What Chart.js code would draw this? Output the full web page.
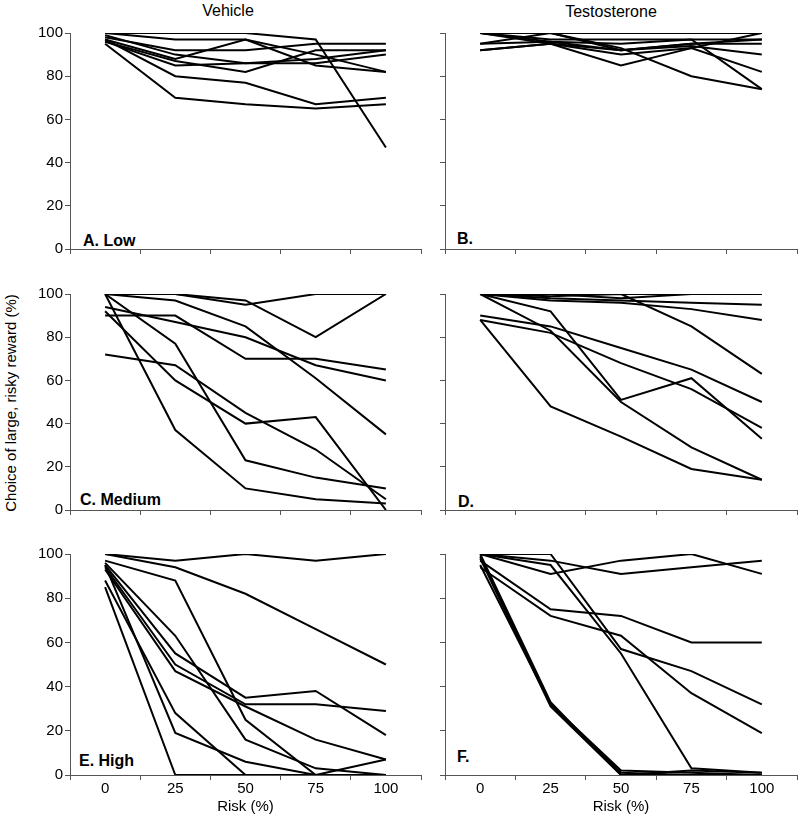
<!DOCTYPE html>
<html>
<head>
<meta charset="utf-8">
<script src="https://cdn.jsdelivr.net/npm/chart.js@4.4.0/dist/chart.umd.min.js"></script>
<style>
  body { margin: 0; background: #fff; }
  #page { position: relative; width: 800px; height: 827px; overflow: hidden; font-family: 'Liberation Sans', Arial, sans-serif; }
  canvas { position: absolute; }
  .txt { position: absolute; white-space: nowrap; color: #000; transform: translate(0, -50%); }
  .title { font-size: 16px; transform: translate(-50%, -50%); }
  .panel { font-weight: bold; font-size: 16px; }
  .ylab { font-size: 15px; transform: translate(-50%, -50%) rotate(-90deg); }
</style>
</head>
<body>
<div id="page">
  <div class="txt title" style="left:228px; top:11px;">Vehicle</div>
  <div class="txt title" style="left:611px; top:12px;">Testosterone</div>
  <div class="txt ylab" style="left:10px; top:403px;">Choice of large, risky reward (%)</div>
  <div class="txt panel" style="left:83px; top:241px;">A. Low</div>
  <div class="txt panel" style="left:457px; top:239px;">B.</div>
  <div class="txt panel" style="left:80px; top:500px;">C. Medium</div>
  <div class="txt panel" style="left:458px; top:502px;">D.</div>
  <div class="txt panel" style="left:79px; top:761px;">E. High</div>
  <div class="txt panel" style="left:457px; top:757px;">F.</div>
</div>
<script>
// risk levels on the x axis and their labels
const riskLevels = [0, 25, 50, 75, 100];
const riskLabels = ['0', '25', '50', '75', '100'];

// one row per animal, values = % choice of large risky reward
const vehicleLow = [
  [100, 100, 100, 97, 47],
  [100, 97, 97, 85, 82],
  [97, 88, 97, 90, 82],
  [96, 87, 82, 92, 92],
  [98, 92, 92, 95, 95],
  [96, 85, 86, 86, 90],
  [97, 80, 77, 67, 70],
  [95, 70, 67, 65, 67],
  [99, 90, 86, 88, 92]
];
const testoLow = [
  [100, 100, 100, 100, 100],
  [100, 97, 97, 97, 97],
  [95, 96, 92, 95, 95],
  [92, 95, 85, 93, 100],
  [100, 100, 93, 80, 74],
  [100, 96, 95, 97, 74],
  [100, 95, 90, 93, 82],
  [95, 100, 92, 94, 90],
  [92, 95, 92, 95, 97]
];
const vehicleMed = [
  [100, 100, 97, 80, 100],
  [100, 100, 95, 100, 100],
  [100, 97, 85, 61, 35],
  [90, 90, 70, 70, 65],
  [94, 87, 80, 67, 60],
  [72, 67, 45, 28, 5],
  [100, 77, 23, 15, 10],
  [92, 60, 40, 43, 0],
  [100, 37, 10, 5, 3]
];
const testoMed = [
  [100, 100, 100, 100, 100],
  [100, 100, 98, 100, 100],
  [100, 98, 97, 96, 95],
  [100, 99, 100, 85, 63],
  [100, 97, 96, 93, 88],
  [90, 85, 75, 65, 50],
  [88, 82, 68, 56, 38],
  [100, 92, 51, 61, 33],
  [100, 83, 50, 29, 14],
  [88, 48, 34, 19, 14]
];
const vehicleHigh = [
  [100, 97, 100, 97, 100],
  [100, 94, 82, 66, 50],
  [97, 88, 25, 0, 0],
  [95, 55, 35, 38, 18],
  [94, 50, 32, 32, 29],
  [93, 47, 31, 16, 7],
  [96, 63, 16, 3, 0],
  [88, 28, 0, 0, 0],
  [95, 19, 6, 0, 7],
  [85, 0, 0, 0, 0]
];
const testoHigh = [
  [100, 91, 97, 100, 91],
  [100, 97, 91, 94, 97],
  [100, 100, 57, 47, 32],
  [100, 95, 55, 3, 1],
  [97, 75, 72, 60, 60],
  [94, 72, 63, 37, 19],
  [100, 33, 0, 0, 0],
  [99, 32, 1, 0, 0],
  [98, 31, 0, 2, 1],
  [95, 32, 2, 1, 0]
];

// tick marks sit between the risk levels
const xTickMarks = [-12.5, 12.5, 37.5, 62.5, 87.5, 112.5];

Chart.defaults.font.family = "'Liberation Sans', Arial, sans-serif";
Chart.defaults.color = '#000';

function makePanel(rows, side, top, bottom) {
  const page = document.getElementById('page');
  const canvas = document.createElement('canvas');
  const w = side === 'left' ? 425 : 375;
  const h = bottom ? 284 : 238;
  canvas.width = w;
  canvas.height = h;
  canvas.style.left = (side === 'left' ? 0 : 425) + 'px';
  canvas.style.top = top + 'px';
  page.appendChild(canvas);

  new Chart(canvas.getContext('2d'), {
    type: 'line',
    data: {
      datasets: rows.map(r => ({
        data: riskLevels.map((x, i) => ({ x: x, y: r[i] })),
        borderColor: '#000',
        borderWidth: 2,
        pointRadius: 0,
        fill: false,
        tension: 0
      }))
    },
    options: {
      responsive: false,
      animation: false,
      layout: { padding: { top: 10, right: side === 'left' ? 4 : 3, left: 0, bottom: 0 } },
      plugins: { legend: { display: false }, tooltip: { enabled: false } },
      scales: {
        x: {
          type: 'linear',
          min: -12.5,
          max: 112.5,
          afterBuildTicks: scale => {
            const vals = riskLevels.concat(xTickMarks).sort((a, b) => a - b);
            scale.ticks = vals.map(v => ({ value: v }));
          },
          ticks: {
            autoSkip: false,
            maxRotation: 0,
            padding: 0,
            font: { size: 15 },
            color: '#000',
            callback: v => {
              const i = riskLevels.indexOf(v);
              return bottom && i >= 0 ? riskLabels[i] : '';
            }
          },
          grid: {
            drawOnChartArea: false,
            tickLength: 5,
            tickColor: ctx => (ctx.tick && riskLevels.indexOf(ctx.tick.value) >= 0) ? 'rgba(0,0,0,0)' : '#555'
          },
          border: { color: '#555', width: 1 },
          title: {
            display: bottom,
            text: 'Risk (%)',
            font: { size: 15 },
            padding: { top: 0, bottom: 11 }
          },
          afterFit: s => { s.height = bottom ? 52 : 6; }
        },
        y: {
          min: 0,
          max: 100,
          ticks: {
            stepSize: 20,
            padding: 2,
            font: { size: 15 },
            color: '#000',
            callback: v => side === 'left' ? v : ''
          },
          grid: { drawOnChartArea: false, tickLength: 5, tickColor: '#555' },
          border: { color: '#555', width: 1 },
          afterFit: s => { s.width = side === 'left' ? 70 : 20; }
        }
      }
    }
  });
}

makePanel(vehicleLow, 'left', 22, false);
makePanel(testoLow, 'right', 22, false);
makePanel(vehicleMed, 'left', 283, false);
makePanel(testoMed, 'right', 283, false);
makePanel(vehicleHigh, 'left', 543, true);
makePanel(testoHigh, 'right', 543, true);
</script>
</body>
</html>
